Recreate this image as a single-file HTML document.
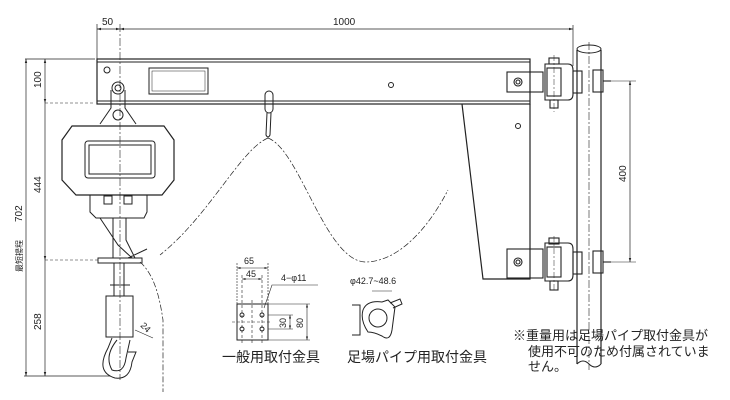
<!DOCTYPE html>
<html><head><meta charset="utf-8"><style>
html,body{margin:0;padding:0;background:#fff}
svg{display:block}
text{font-family:"Liberation Sans","Noto Sans CJK JP",sans-serif;fill:#222}
</style></head><body>
<svg width="730" height="400" viewBox="0 0 730 400" xmlns="http://www.w3.org/2000/svg">
<defs>
<marker id="a" viewBox="0 0 10 10" refX="10" refY="5" markerWidth="6" markerHeight="6" orient="auto-start-reverse"><path d="M0 2 L10 5 L0 8 Z" fill="#222"/></marker>
</defs>
<g stroke="#222" fill="none" stroke-width="1">
<!-- top dims -->
<line x1="97" y1="24" x2="97" y2="60" stroke-width="0.7"/>
<line x1="97" y1="29" x2="120" y2="29" stroke-width="0.7" marker-start="url(#a)" marker-end="url(#a)"/>
<line x1="120" y1="29" x2="573" y2="29" stroke-width="0.7" marker-start="url(#a)" marker-end="url(#a)"/>
<line x1="573" y1="25" x2="573" y2="66" stroke-width="0.7"/>
<line x1="120" y1="24" x2="120" y2="380" stroke-dasharray="8,2,2,2" stroke-width="0.6"/>
<!-- left dims -->
<line x1="25" y1="59" x2="95" y2="59" stroke-width="0.7"/>
<line x1="26" y1="59" x2="26" y2="376" stroke-width="0.7" marker-start="url(#a)" marker-end="url(#a)"/>
<line x1="45" y1="59" x2="45" y2="103" stroke-width="0.7" marker-start="url(#a)" marker-end="url(#a)"/>
<line x1="45" y1="103" x2="45" y2="260" stroke-width="0.7" marker-end="url(#a)"/>
<line x1="45" y1="260" x2="45" y2="376" stroke-width="0.7" marker-end="url(#a)"/>
<line x1="45" y1="103" x2="95" y2="103" stroke-width="0.6" stroke-dasharray="3,2"/>
<line x1="45" y1="260" x2="100" y2="260" stroke-width="0.6" stroke-dasharray="3,2"/>
<line x1="24" y1="376" x2="110" y2="376" stroke-width="0.7"/>
<!-- beam -->
<rect x="97" y="59" width="433" height="45" stroke-width="1.2"/>
<line x1="97" y1="62" x2="530" y2="62"/>
<line x1="97" y1="101" x2="530" y2="101"/>
<circle cx="107" cy="70" r="3"/>
<rect x="149" y="68" width="59" height="26"/>
<rect x="152" y="71" width="53" height="20" stroke-width="0.5"/>
<circle cx="391" cy="85" r="2.5"/>
<circle cx="518" cy="126" r="2.5"/>
<!-- vertical plate -->
<path d="M462 104 L483 279 L530 279 L530 104" stroke-width="1.2"/>
<!-- brackets -->
<g stroke-width="1.1">
<rect x="507" y="72" width="36" height="20"/>
<circle cx="518" cy="82" r="4"/><circle cx="518" cy="82" r="2"/>
<path d="M545 64 H568 Q573 64 573 70 V94 Q573 100 568 100 H545 Z"/>
<rect x="547" y="68" width="14" height="28"/>
<rect x="549" y="58" width="10" height="6"/><rect x="550" y="100" width="8" height="8"/>
<rect x="573" y="71" width="9" height="22"/><rect x="593" y="70" width="10" height="22"/>
<line x1="603" y1="81" x2="611" y2="81"/>
<rect x="507" y="249" width="36" height="29"/>
<circle cx="518" cy="262" r="4"/><circle cx="518" cy="262" r="2"/>
<path d="M545 243 H568 Q573 243 573 249 V275 Q573 281 568 281 H545 Z"/>
<rect x="547" y="247" width="14" height="30"/>
<rect x="549" y="238" width="10" height="6"/><rect x="550" y="281" width="8" height="9"/>
<rect x="573" y="252" width="9" height="22"/><rect x="593" y="251" width="10" height="22"/>
<line x1="603" y1="262" x2="611" y2="262"/>
</g>
<!-- pipe -->
<path d="M577 50 V364 M601 50 V364" stroke-width="1.2"/>
<ellipse cx="589" cy="49" rx="12" ry="4"/>
<path d="M577 364 Q583 358 589 364 Q595 370 601 364"/>
<line x1="589" y1="42" x2="589" y2="370" stroke-dasharray="8,2,2,2" stroke-width="0.6"/>
<line x1="554" y1="55" x2="554" y2="112" stroke-dasharray="6,2,2,2" stroke-width="0.5"/>
<line x1="554" y1="236" x2="554" y2="292" stroke-dasharray="6,2,2,2" stroke-width="0.5"/>
<!-- 400 dim -->
<line x1="611" y1="81" x2="636" y2="81" stroke-width="0.6"/>
<line x1="611" y1="262" x2="636" y2="262" stroke-width="0.6"/>
<line x1="630" y1="81" x2="630" y2="262" stroke-width="0.7" marker-start="url(#a)" marker-end="url(#a)"/>
<!-- trolley hook -->
<rect x="265" y="91" width="8" height="22" rx="4"/>
<path d="M267 113 L266 135 Q268 139 270 135 L271 113"/>
<!-- dashed curve -->
<path d="M268 138 C240 150 210 215 160 255 M268 138 C300 150 325 260 365 262 C400 262 430 225 448 190" stroke-dasharray="6,2,2,2" stroke-width="0.7"/>
<path d="M140 262 C155 275 160 300 163 320 V392" stroke-dasharray="6,2,2,2" stroke-width="0.7"/>
<!-- hoist -->
<circle cx="118" cy="88" r="6"/><circle cx="118" cy="88" r="3"/>
<path d="M111 90 V108 L100 124 M125 90 V108 L136 124"/>
<circle cx="118" cy="115" r="5"/>
<path d="M72 126 H164 L174 140 V180 L162 195 H76 L62 180 V140 Z" stroke-width="1.2"/>
<rect x="85" y="141" width="70" height="37" rx="3"/>
<rect x="89" y="145" width="62" height="29"/>
<path d="M90 195 V212 L96 218 H144 L147 212 V195"/>
<rect x="104" y="196" width="8" height="8"/><rect x="124" y="196" width="8" height="8"/>
<path d="M100 218 L118 245 L132 258 M113 218 V258 M126 218 V240 L135 258 M128 258 L147 249"/>
<rect x="98" y="258" width="44" height="5"/>
<path d="M114 263 V296 M124 263 V296 M110 285 h20"/>
<rect x="106" y="296" width="27" height="41"/>
<path d="M112 338 L108 348 Q95 372 115 378 Q130 380 132 362 L136 352 L128 352 M117 340 Q104 356 112 370 Q124 374 126 358 L130 340"/>
<line x1="135" y1="330" x2="153" y2="338" stroke-width="0.6"/>
<!-- small bracket -->
<rect x="237" y="304" width="31" height="36"/>
<g stroke-width="0.6">
<line x1="237" y1="263" x2="237" y2="304" stroke-dasharray="2,1"/>
<line x1="268" y1="263" x2="268" y2="304" stroke-dasharray="2,1"/>
<line x1="237" y1="268" x2="268" y2="268" marker-start="url(#a)" marker-end="url(#a)"/>
<line x1="242" y1="279" x2="262" y2="279" marker-start="url(#a)" marker-end="url(#a)"/>
<line x1="242" y1="275" x2="242" y2="345" stroke-dasharray="3,2"/>
<line x1="262" y1="275" x2="262" y2="345" stroke-dasharray="3,2"/>
<line x1="232" y1="322" x2="272" y2="322" stroke-dasharray="3,2"/>
<line x1="252" y1="300" x2="252" y2="345" stroke-dasharray="3,2"/>
<line x1="268" y1="304" x2="310" y2="304"/>
<line x1="268" y1="340" x2="310" y2="340"/>
<line x1="268" y1="315" x2="293" y2="315"/><line x1="268" y1="329" x2="293" y2="329"/>
<line x1="290" y1="315" x2="290" y2="329" marker-start="url(#a)" marker-end="url(#a)"/>
<line x1="307" y1="304" x2="307" y2="340" marker-start="url(#a)" marker-end="url(#a)"/>
<path d="M264 308 L272 285 H318"/>
</g>
<circle cx="242" cy="315" r="2"/><circle cx="262" cy="315" r="2"/><circle cx="242" cy="329" r="2"/><circle cx="262" cy="329" r="2"/>
<!-- pipe clamp -->
<path d="M352 305 H360 V335 H352 M363 310 Q367 300 382 302 L388 300 L395 307 L392 330 Q390 342 382 336 Q374 332 368 332 Q360 320 363 310 Z"/>
<circle cx="378" cy="318" r="9"/>
<path d="M390 303 L400 299 L402 304 L393 308"/>
<line x1="372" y1="291" x2="392" y2="291" stroke-width="0.6"/>
</g>
<!-- texts -->
<text x="102" y="25" font-size="10">50</text>
<text x="333" y="25" font-size="10">1000</text>
<text font-size="10" transform="translate(41 88) rotate(-90)">100</text>
<text font-size="10" transform="translate(41 193) rotate(-90)">444</text>
<text font-size="10" transform="translate(22 222) rotate(-90)">702</text>
<text font-size="8" transform="translate(22 272) rotate(-90)">最短揚程</text>
<text font-size="10" transform="translate(41 330) rotate(-90)">258</text>
<text font-size="10" transform="translate(626 182) rotate(-90)">400</text>
<text font-size="9" transform="translate(140 326) rotate(45)">24</text>
<text x="244" y="264" font-size="9">65</text>
<text x="246" y="277" font-size="9">45</text>
<text x="281" y="281" font-size="9">4−φ11</text>
<text font-size="9" transform="translate(286 328) rotate(-90)">30</text>
<text font-size="9" transform="translate(303 328) rotate(-90)">80</text>
<text x="350" y="284" font-size="9">φ42.7~48.6</text>
<text x="222" y="362" font-size="14">一般用取付金具</text>
<text x="347" y="362" font-size="14">足場パイプ用取付金具</text>
<text x="513" y="340" font-size="13">※重量用は足場パイプ取付金具が</text>
<text x="528" y="356" font-size="13">使用不可のため付属されていま</text>
<text x="528" y="371" font-size="13">せん。</text>
</svg>
</body></html>
